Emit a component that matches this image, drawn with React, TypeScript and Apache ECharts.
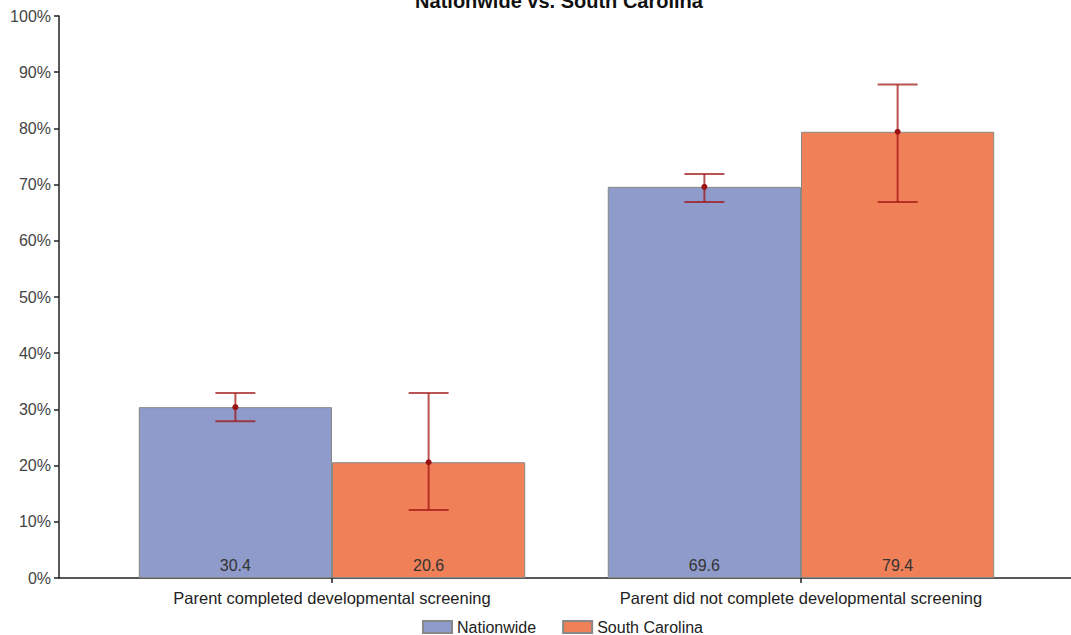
import React, { useEffect, useRef } from "react";
import * as echarts from "echarts";

const categories = [
  "Parent completed developmental screening",
  "Parent did not complete developmental screening",
];
const seriesNames = ["Nationwide", "South Carolina"];
const nationwide = [30.4, 69.6];
const southCarolina = [20.6, 79.4];
const nationwideLow = [27.9, 66.9];
const nationwideHigh = [32.9, 71.9];
const scLow = [12.1, 66.9];
const scHigh = [32.9, 87.8];
const yTicks = [0, 10, 20, 30, 40, 50, 60, 70, 80, 90, 100];

const CAT_GAP = 0.176;

export default function App() {
  const ref = useRef<HTMLDivElement>(null);
  useEffect(() => {
    if (!ref.current) return;
    const chart = echarts.init(ref.current, null, { renderer: "svg" });
    const font = "Liberation Sans, Arial, sans-serif";

    const errData = (vals: number[], lows: number[], highs: number[]) =>
      vals.map((v, i) => [i, lows[i], highs[i], v]);

    const makeRender = (side: number) => (params: any, api: any) => {
      const cat = api.value(0);
      const lo = api.coord([cat, api.value(1)]);
      const hi = api.coord([cat, api.value(2)]);
      const mid = api.coord([cat, api.value(3)]);
      const band = api.size([1, 0])[0];
      const barW = (band * (1 - CAT_GAP)) / 2;
      const x = lo[0] + (side * barW) / 2;
      const cap = 20;
      const stroke = { stroke: "rgba(160,16,16,0.72)", lineWidth: 2 };
      return {
        type: "group",
        children: [
          { type: "line", shape: { x1: x, y1: hi[1], x2: x, y2: lo[1] }, style: stroke },
          { type: "line", shape: { x1: x - cap, y1: hi[1], x2: x + cap, y2: hi[1] }, style: stroke },
          { type: "line", shape: { x1: x - cap, y1: lo[1], x2: x + cap, y2: lo[1] }, style: stroke },
          { type: "circle", shape: { cx: x, cy: mid[1], r: 3 }, style: { fill: "#9b1212" } },
        ],
      };
    };

    const barLabel = {
      show: true,
      position: "insideBottom",
      distance: 5,
      color: "#333",
      fontSize: 16,
      fontFamily: font,
      formatter: (p: any) => p.value.toFixed(1),
    };

    chart.setOption({
      animation: false,
      title: {
        text: "Nationwide vs. South Carolina",
        left: 554,
        top: -14,
        textAlign: "center",
        textStyle: { fontSize: 20, fontWeight: "bold", color: "#111", fontFamily: font },
      },
      legend: {
        data: seriesNames,
        left: 417,
        top: 614,
        icon: "rect",
        itemWidth: 29,
        itemHeight: 12,
        itemGap: 26,
        textStyle: { fontSize: 16, color: "#222", fontFamily: font },
      },
      grid: [
        { left: 97.5, right: 35.5, top: 16, bottom: 57 },
        { left: 59, right: -10, top: 16, bottom: 57 },
      ],
      xAxis: [
        {
          type: "category",
          gridIndex: 0,
          data: categories,
          axisLine: { show: false },
          axisTick: {
            show: true,
            alignWithLabel: true,
            interval: 0,
            length: 5,
            lineStyle: { color: "#222", width: 1.5 },
          },
          axisLabel: { color: "#222", fontSize: 16.5, margin: 11, interval: 0, hideOverlap: false, fontFamily: font },
        },
        {
          type: "value",
          gridIndex: 1,
          min: 0,
          max: 1,
          axisLine: { show: true, lineStyle: { color: "#222", width: 1.5 } },
          axisTick: { show: false },
          axisLabel: { show: false },
          splitLine: { show: false },
        },
      ],
      yAxis: [
        {
          type: "value",
          gridIndex: 0,
          min: 0,
          max: 100,
          interval: 10,
          offset: 38.5,
          axisLine: { show: true, lineStyle: { color: "#222", width: 1.5 } },
          axisTick: { show: true, length: 5, lineStyle: { color: "#222", width: 1.5 } },
          axisLabel: {
            color: "#444",
            fontSize: 16,
            margin: 8,
            fontFamily: font,
            customValues: yTicks,
            formatter: (v: number) => v + "%",
          },
          splitLine: { show: false },
        },
        { type: "value", gridIndex: 1, show: false, min: 0, max: 1 },
      ],
      series: [
        {
          name: seriesNames[0],
          type: "bar",
          data: nationwide,
          barGap: "0%",
          barCategoryGap: CAT_GAP * 100 + "%",
          itemStyle: { color: "#8f9bcb", borderColor: "#888", borderWidth: 1 },
          label: barLabel,
        },
        {
          name: seriesNames[1],
          type: "bar",
          data: southCarolina,
          barGap: "0%",
          barCategoryGap: CAT_GAP * 100 + "%",
          itemStyle: { color: "#f08057", borderColor: "#888", borderWidth: 1 },
          label: barLabel,
        },
        {
          name: "Nationwide CI",
          type: "custom",
          data: errData(nationwide, nationwideLow, nationwideHigh),
          encode: { x: 0, y: [1, 2] },
          renderItem: makeRender(-1),
          z: 5,
        },
        {
          name: "South Carolina CI",
          type: "custom",
          data: errData(southCarolina, scLow, scHigh),
          encode: { x: 0, y: [1, 2] },
          renderItem: makeRender(1),
          z: 5,
        },
      ],
    });
    return () => chart.dispose();
  }, []);

  return (
    <div
      ref={ref}
      style={{ position: "fixed", left: 0, top: 0, width: 1071, height: 635, background: "#fff" }}
    />
  );
}
